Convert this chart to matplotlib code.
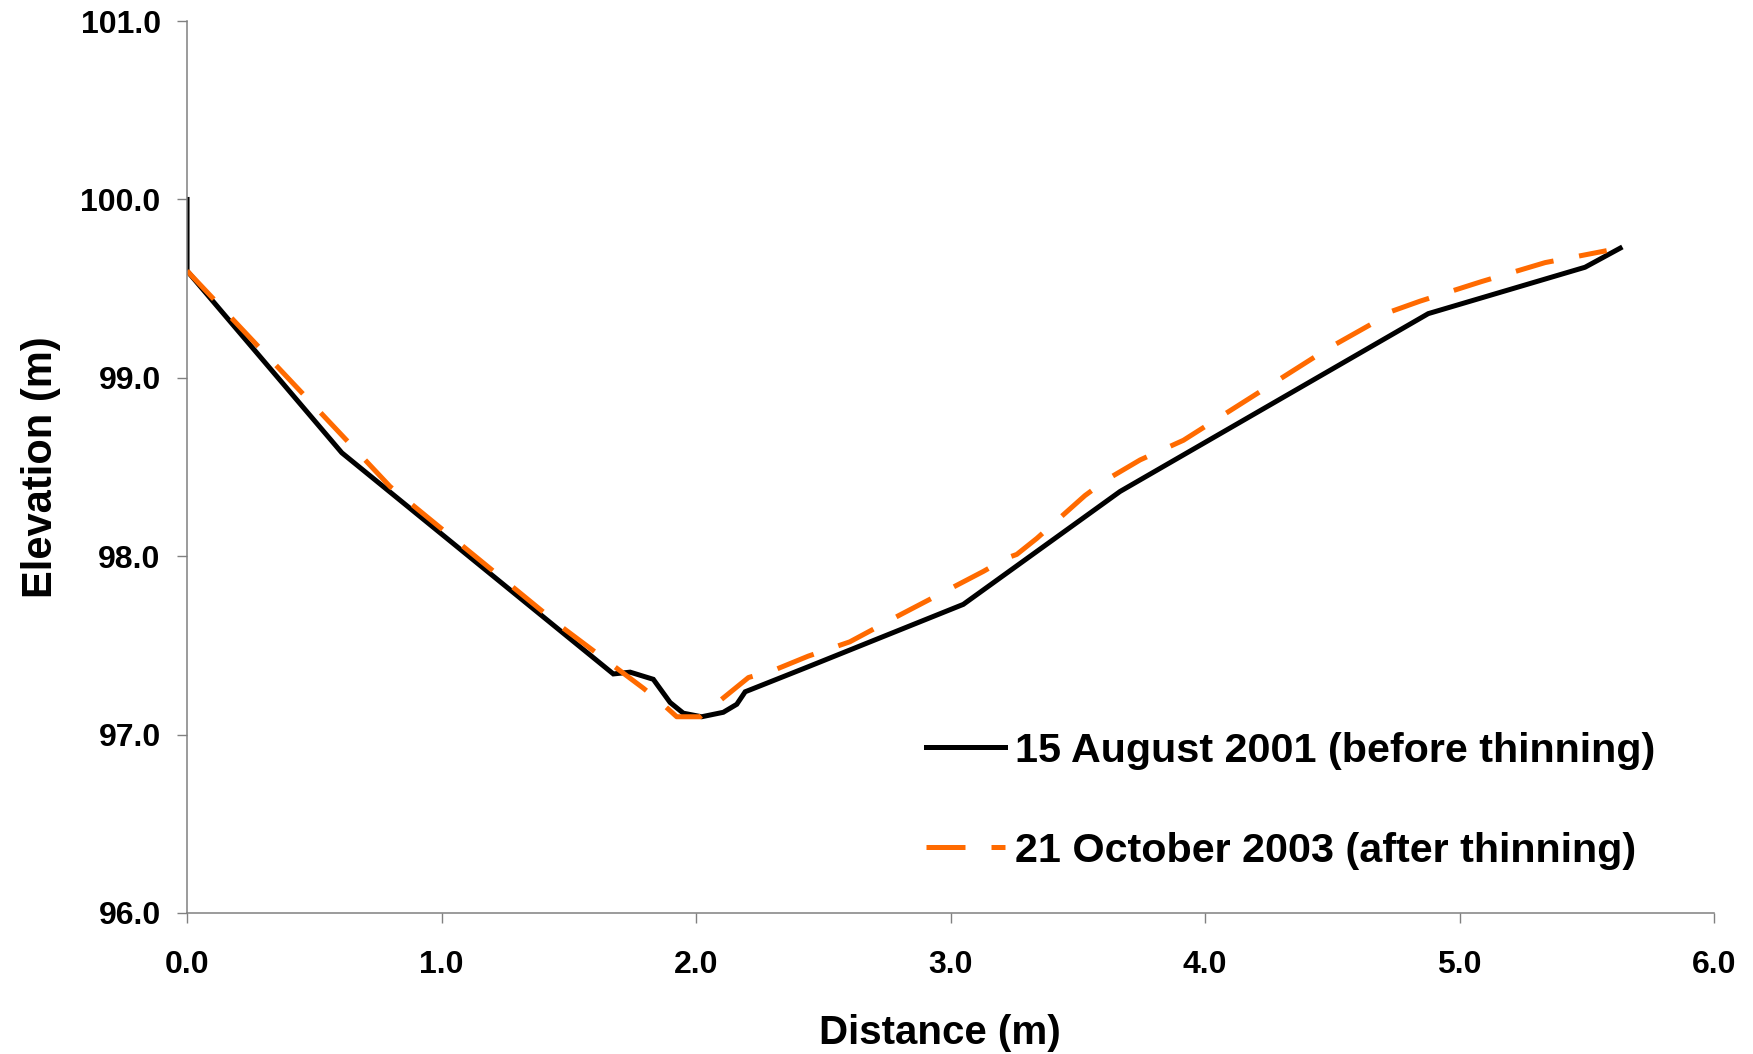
import matplotlib.pyplot as plt

plt.rcParams['font.family'] = ['Liberation Sans', 'DejaVu Sans']
plt.rcParams['font.weight'] = 'bold'

# survey of 15 August 2001 (before thinning)
dist_2001 = [0.0, 0.0, 0.608, 1.675, 1.741, 1.832, 1.898, 1.950, 2.022, 2.107,
             2.160, 2.193, 2.44, 3.05, 3.666, 4.877, 5.493, 5.631]
elev_2001 = [100.0, 99.6, 98.58, 97.34, 97.35, 97.31, 97.18, 97.12, 97.10, 97.125,
             97.17, 97.24, 97.38, 97.73, 98.363, 99.36, 99.62, 99.727]

# survey of 21 October 2003 (after thinning)
dist_2003 = [0.0, 0.627, 0.798, 1.466, 1.793, 1.870, 1.924, 2.016, 2.206, 2.304,
             2.441, 2.604, 2.80, 3.129, 3.221, 3.26, 3.339, 3.528, 3.614, 3.745,
             3.915, 4.485, 4.714, 4.727, 4.845, 5.087, 5.336, 5.578]
elev_2003 = [99.6, 98.65, 98.39, 97.61, 97.26, 97.17, 97.10, 97.10, 97.32, 97.36,
             97.44, 97.52, 97.67, 97.915, 97.99, 98.01, 98.10, 98.34, 98.43, 98.54,
             98.65, 99.166, 99.35, 99.37, 99.43, 99.54, 99.646, 99.713]

labels = ['15 August 2001 (before thinning)', '21 October 2003 (after thinning)']
x_ticks = [0, 1, 2, 3, 4, 5, 6]
y_ticks = [96, 97, 98, 99, 100, 101]

fig = plt.figure(figsize=(17.53, 10.54), dpi=100)
ax = fig.add_axes([0.1067, 0.1338, 0.8711, 0.8462])

ax.plot(dist_2001, elev_2001, color='black', lw=3.6, label=labels[0],
        solid_joinstyle='miter')
ax.plot(dist_2003, elev_2003, color='#FF6A00', lw=3.6, dashes=(7.8, 5.2),
        label=labels[1])

ax.set_xlim(0, 6)
ax.set_ylim(96, 101)
ax.set_xticks(x_ticks)
ax.set_yticks(y_ticks)
ax.set_xticklabels(['%.1f' % v for v in x_ticks])
ax.set_yticklabels(['%.1f' % v for v in y_ticks])
ax.tick_params(labelsize=23, length=7, width=1, color='#808080')
ax.tick_params(axis='x', pad=20)
ax.tick_params(axis='y', pad=12)

for side in ['top', 'right']:
    ax.spines[side].set_visible(False)
for side in ['left', 'bottom']:
    ax.spines[side].set_color('#808080')
    ax.spines[side].set_linewidth(1.1)

ax.set_xlabel('Distance (m)', fontsize=29, fontweight='bold')
ax.xaxis.set_label_coords(0.493, -0.113)
ax.set_ylabel('Elevation (m)', fontsize=30, fontweight='bold', labelpad=14)

ax.legend(loc='center left', bbox_to_anchor=(0.484, 0.126), frameon=False,
          fontsize=29.7, handlelength=1.9, handletextpad=0.25, labelspacing=1.5,
          borderpad=0, borderaxespad=0)

fig.savefig('out.png', dpi=100, facecolor='white')
